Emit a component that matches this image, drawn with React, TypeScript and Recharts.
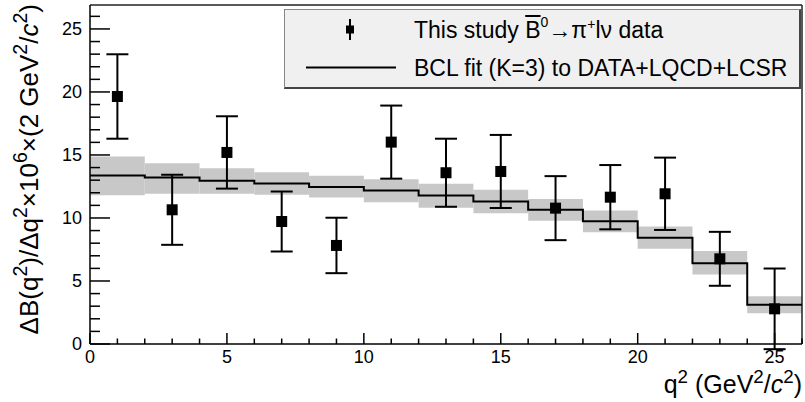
import React from 'react';
import { ComposedChart, XAxis, YAxis, Line, Scatter, ErrorBar, ReferenceArea, ReferenceLine } from 'recharts';

// Fit bins (q^2 in GeV^2/c^2)
const binEdges = [0, 2, 4, 6, 8, 10, 12, 14, 16, 18, 20, 22, 24, 26];
const fitCentral = [13.37, 13.21, 12.95, 12.74, 12.46, 12.18, 11.79, 11.31, 10.66, 9.75, 8.43, 6.41, 3.11];
const fitUpper = [14.88, 14.35, 13.95, 13.63, 13.36, 13.08, 12.71, 12.24, 11.51, 10.6, 9.33, 7.37, 3.79];
const fitLower = [11.81, 11.92, 11.92, 11.84, 11.63, 11.25, 10.81, 10.38, 9.78, 8.87, 7.56, 5.52, 2.44];

// Measured data points
const dataQ2 = [1, 3, 5, 7, 9, 11, 13, 15, 17, 19, 21, 23, 25];
const dataValues = [19.64, 10.65, 15.2, 9.72, 7.82, 16.02, 13.59, 13.69, 10.78, 11.65, 11.92, 6.76, 2.79];
const dataErrors = [3.35, 2.78, 2.87, 2.38, 2.2, 2.9, 2.7, 2.9, 2.54, 2.55, 2.87, 2.14, 3.2];

// Axis ticks
const xTicks = [0, 1, 2, 3, 4, 5, 6, 7, 8, 9, 10, 11, 12, 13, 14, 15, 16, 17, 18, 19, 20, 21, 22, 23, 24, 25, 26];
const yTicks = [0, 1, 2, 3, 4, 5, 6, 7, 8, 9, 10, 11, 12, 13, 14, 15, 16, 17, 18, 19, 20, 21, 22, 23, 24, 25, 26];
const xDomain = [0, 26];
const yDomain = [0, 26.9];

const FONT = '"Liberation Sans", Arial, Helvetica, sans-serif';

const fitSteps = binEdges.map((x, i) => ({ x, fit: fitCentral[Math.min(i, fitCentral.length - 1)] }));
const points = dataQ2.map((x, i) => ({ x, y: dataValues[i], err: dataErrors[i] }));

const XTick = (props: any) => {
  const { x, y, payload } = props;
  const v = payload.value;
  const major = v % 5 === 0;
  const len = major ? 11 : 5.5;
  return (
    <g>
      <line x1={x} x2={x} y1={y} y2={y - len} stroke="#000" strokeWidth={1.5} />
      {major && (
        <text x={x} y={y + 19} textAnchor="middle" fontSize={18} fontFamily={FONT} fill="#000">
          {v}
        </text>
      )}
    </g>
  );
};

const YTick = (props: any) => {
  const { x, y, payload } = props;
  const v = payload.value;
  const major = v % 5 === 0;
  const len = major ? 20 : 10;
  return (
    <g>
      <line x1={x} x2={x + len} y1={y} y2={y} stroke="#000" strokeWidth={1.5} />
      {major && (
        <text x={x - 8} y={y} dy="0.36em" textAnchor="end" fontSize={18} fontFamily={FONT} fill="#000">
          {v}
        </text>
      )}
    </g>
  );
};

const SquareDot = (props: any) => {
  const { cx, cy } = props;
  if (cx == null || cy == null) return null;
  return <rect x={cx - 5.5} y={cy - 5.5} width={11} height={11} fill="#000" />;
};

const Sup = ({ children, size }: any) => (
  <tspan dy={-size * 0.42} fontSize={size * 0.75}>{children}</tspan>
);

export default function App() {
  const ty = 26;
  const tx = 25;
  return (
    <div style={{ position: 'absolute', left: 0, top: 0, width: 805, height: 402, fontFamily: FONT }}>
      <ComposedChart width={805} height={402} margin={{ top: 5, right: 3, left: 0, bottom: 0 }}>
        {fitCentral.map((_, i) => (
          <ReferenceArea
            key={'band' + i}
            x1={binEdges[i]}
            x2={binEdges[i + 1]}
            y1={fitLower[i]}
            y2={fitUpper[i]}
            fill="#c8c8c8"
            fillOpacity={1}
            stroke="none"
          />
        ))}
        <XAxis
          dataKey="x"
          type="number"
          domain={xDomain}
          ticks={xTicks}
          interval={0}
          height={58}
          tickSize={0}
          tickMargin={0}
          tickLine={false}
          axisLine={{ stroke: '#000', strokeWidth: 1.5 }}
          tick={<XTick />}
        />
        <YAxis
          type="number"
          domain={yDomain}
          allowDataOverflow
          ticks={yTicks}
          interval={0}
          width={90}
          tickSize={0}
          tickMargin={0}
          tickLine={false}
          axisLine={{ stroke: '#000', strokeWidth: 1.5 }}
          tick={<YTick />}
        />
        <ReferenceLine y={yDomain[1]} stroke="#222" strokeWidth={1.5} />
        <ReferenceLine x={xDomain[1]} stroke="#222" strokeWidth={1.5} />
        <Line
          data={fitSteps}
          dataKey="fit"
          type="stepAfter"
          stroke="#000"
          strokeWidth={2}
          dot={false}
          activeDot={false}
          isAnimationActive={false}
        />
        <Scatter data={points} dataKey="y" fill="#000" shape={<SquareDot />} isAnimationActive={false}>
          <ErrorBar dataKey="err" direction="y" width={11} stroke="#000" strokeWidth={2} isAnimationActive={false} />
        </Scatter>
      </ComposedChart>

      <svg width={805} height={402} style={{ position: 'absolute', left: 0, top: 0, pointerEvents: 'none' }}>
        <text transform="translate(38,4) rotate(-90)" textAnchor="end" fontSize={ty} fontFamily={FONT} fill="#000">
          <tspan>ΔB(q</tspan>
          <Sup size={ty}>2</Sup>
          <tspan dy={ty * 0.42}>)/Δq</tspan>
          <Sup size={ty}>2</Sup>
          <tspan dy={ty * 0.42}>×10</tspan>
          <Sup size={ty}>6</Sup>
          <tspan dy={ty * 0.42}>×(2 GeV</tspan>
          <Sup size={ty}>2</Sup>
          <tspan dy={ty * 0.42}>/</tspan>
          <tspan fontStyle="italic">c</tspan>
          <Sup size={ty}>2</Sup>
          <tspan dy={ty * 0.42}>)</tspan>
        </text>
        <text x={802} y={393} textAnchor="end" fontSize={tx} fontFamily={FONT} fill="#000">
          <tspan>q</tspan>
          <Sup size={tx}>2</Sup>
          <tspan dy={tx * 0.42}> (GeV</tspan>
          <Sup size={tx}>2</Sup>
          <tspan dy={tx * 0.42}>/</tspan>
          <tspan fontStyle="italic">c</tspan>
          <Sup size={tx}>2</Sup>
          <tspan dy={tx * 0.42}>)</tspan>
        </text>
      </svg>

      <div
        style={{
          position: 'absolute',
          left: 284,
          top: 9,
          width: 514,
          height: 77,
          background: '#f0f0f0',
          borderLeft: '1px solid #888',
          borderTop: '1px solid #888',
          borderRight: '2px solid #444',
          borderBottom: '2px solid #444',
          fontSize: 23,
          color: '#000',
        }}
      >
        <svg width={130} height={77} style={{ position: 'absolute', left: 0, top: 0 }}>
          <line x1={65} x2={65} y1={9} y2={30} stroke="#000" strokeWidth={2} />
          <rect x={61} y={15.5} width={8} height={8} fill="#000" />
          <line x1={21} x2={111} y1={57.5} y2={57.5} stroke="#000" strokeWidth={2} />
        </svg>
        <div style={{ position: 'absolute', left: 129, top: 6, whiteSpace: 'nowrap', lineHeight: '28px' }}>
          This study <span style={{ textDecoration: 'overline' }}>B</span>
          <span style={{ fontSize: 14, position: 'relative', top: -11 }}>0</span>→π
          <span style={{ fontSize: 14, position: 'relative', top: -9 }}>+</span>lν data
        </div>
        <div style={{ position: 'absolute', left: 129, top: 44, whiteSpace: 'nowrap', lineHeight: '28px' }}>
          BCL fit (K=3) to DATA+LQCD+LCSR
        </div>
      </div>
    </div>
  );
}
